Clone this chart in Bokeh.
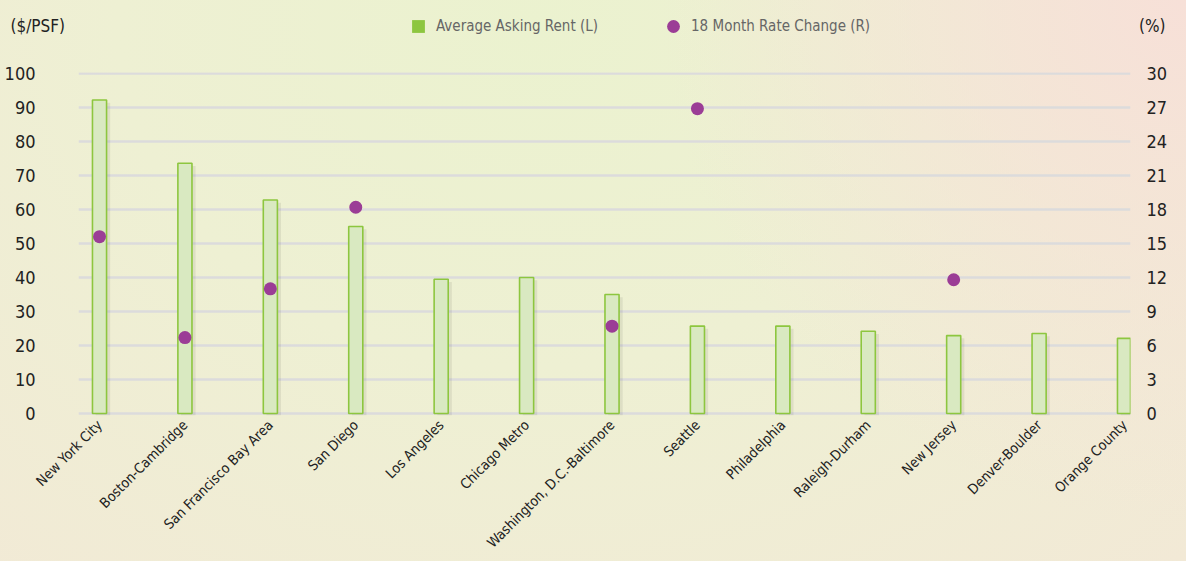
from bokeh.plotting import figure
from bokeh.models import (Range1d, LinearAxis, FixedTicker, ColumnDataSource, Legend, LegendItem,
                          Label, InlineStyleSheet)
from bokeh.layouts import column
from bokeh.embed import file_html
from bokeh.resources import INLINE
import math

markets = ["New York City", "Boston-Cambridge", "San Francisco Bay Area", "San Diego", "Los Angeles",
           "Chicago Metro", "Washington, D.C.-Baltimore", "Seattle", "Philadelphia", "Raleigh-Durham",
           "New Jersey", "Denver-Boulder", "Orange County"]
avg_rent = [92.2, 73.6, 62.8, 55.0, 39.5, 40.0, 35.0, 25.7, 25.7, 24.2, 22.9, 23.5, 22.1]
rate_change_market = ["New York City", "Boston-Cambridge", "San Francisco Bay Area", "San Diego",
                      "Washington, D.C.-Baltimore", "Seattle", "New Jersey"]
rate_change = [15.6, 6.7, 11.0, 18.2, 7.7, 26.9, 11.8]
left_ticks = [0, 10, 20, 30, 40, 50, 60, 70, 80, 90, 100]
right_ticks = [0, 3, 6, 9, 12, 15, 18, 21, 24, 27, 30]
legend_labels = ["Average Asking Rent (L)", "18 Month Rate Change (R)"]
left_unit = "($/PSF)"
right_unit = "(%)"

FONT = "DejaVu Sans Condensed"
GREEN = "#8dc63f"
PURPLE = "#9b3d96"
TXT = "#222222"

xs = list(range(len(markets)))
bar_src = ColumnDataSource(dict(x=xs, top=avg_rent, sx=[v + 0.04 for v in xs],
                                stop=[v - 0.8 for v in avg_rent]))
dot_x = [markets.index(m) for m in rate_change_market]
dot_src = ColumnDataSource(dict(x=dot_x, y=rate_change))

css = InlineStyleSheet(css=""":host {
 background: radial-gradient(circle at 100% 0%, rgba(247,224,216,1) 0%, rgba(247,224,216,0) 40%),
             radial-gradient(ellipse at 45% 5%, #ebf2cf 0%, #eef0d3 45%, #f2e9d6 100%);
}""")

# ---------------- header (legend + unit labels) ----------------
hdr = figure(width=1186, height=50, output_backend="svg", toolbar_location=None,
             x_range=Range1d(0, 1186), y_range=Range1d(50, 0), x_axis_type=None, y_axis_type=None,
             min_border=0, background_fill_color=None, border_fill_color=None, outline_line_color=None,
             frame_align=False)
hdr.grid.visible = False
leg_sq = hdr.scatter(x=[-100], y=[-100], marker="square", size=13, fill_color=GREEN, line_color=None)
leg_ci = hdr.scatter(x=[-100], y=[-100], marker="circle", size=12, fill_color=PURPLE, line_color=None)
legend = Legend(items=[LegendItem(label=legend_labels[0], renderers=[leg_sq]),
                       LegendItem(label=legend_labels[1], renderers=[leg_ci])],
                orientation="horizontal", location=(402, 8), border_line_color=None,
                background_fill_alpha=0, label_text_font=FONT, label_text_font_size="15px",
                label_text_color="#666666", spacing=59, glyph_width=32, glyph_height=32,
                label_standoff=2, padding=4, margin=0)
hdr.add_layout(legend)
hdr.add_layout(Label(x=10, y=25, text=left_unit, text_align="left", text_baseline="middle",
                     text_font=FONT, text_font_size="17px", text_color=TXT))
hdr.add_layout(Label(x=1165, y=25, text=right_unit, text_align="right", text_baseline="middle",
                     text_font=FONT, text_font_size="17px", text_color=TXT))

# ---------------- main chart ----------------
p = figure(width=1186, height=511, output_backend="svg", toolbar_location=None,
           x_range=Range1d(-0.246, 12.07), y_range=Range1d(-0.6, 100.3),
           min_border_left=78, min_border_right=56, min_border_top=22, min_border_bottom=146,
           background_fill_color=None, border_fill_color=None, outline_line_color=None,
           frame_align=False)
p.extra_y_ranges = {"pct": Range1d(-0.18, 30.09)}

p.xgrid.visible = False
p.ygrid.ticker = FixedTicker(ticks=left_ticks)
p.ygrid.grid_line_color = "#dcdbdc"
p.ygrid.grid_line_width = 2.5

p.vbar(x="sx", top="stop", bottom=-0.8, width=0.17, source=bar_src, fill_color="#000000",
       fill_alpha=0.07, line_color=None)
p.vbar(x="x", top="top", bottom=0, width=0.165, source=bar_src, fill_color="#d9e9c1",
       line_color=GREEN, line_width=1.6)
p.scatter(x="x", y="y", source=dot_src, y_range_name="pct", size=13, marker="circle",
          fill_color=PURPLE, line_color=None)


def style_axis(ax, size, standoff):
    ax.axis_line_color = None
    ax.major_tick_line_color = None
    ax.minor_tick_line_color = None
    ax.major_tick_out = 0
    ax.major_tick_in = 0
    ax.minor_tick_out = 0
    ax.minor_tick_in = 0
    ax.major_label_text_font = FONT
    ax.major_label_text_font_size = size
    ax.major_label_text_color = TXT
    ax.major_label_standoff = standoff


p.xaxis.ticker = FixedTicker(ticks=xs)
p.xaxis.major_label_overrides = {i: m for i, m in enumerate(markets)}
p.xaxis.major_label_orientation = math.pi / 4
style_axis(p.xaxis[0], "14px", 7)

p.yaxis.ticker = FixedTicker(ticks=left_ticks)
style_axis(p.yaxis[0], "18px", 43)

ra = LinearAxis(y_range_name="pct", ticker=FixedTicker(ticks=right_ticks))
style_axis(ra, "18px", 16)
p.add_layout(ra, "right")

layout = column(hdr, p, spacing=0, stylesheets=[css])
open("out.html", "w").write(file_html(layout, INLINE))
